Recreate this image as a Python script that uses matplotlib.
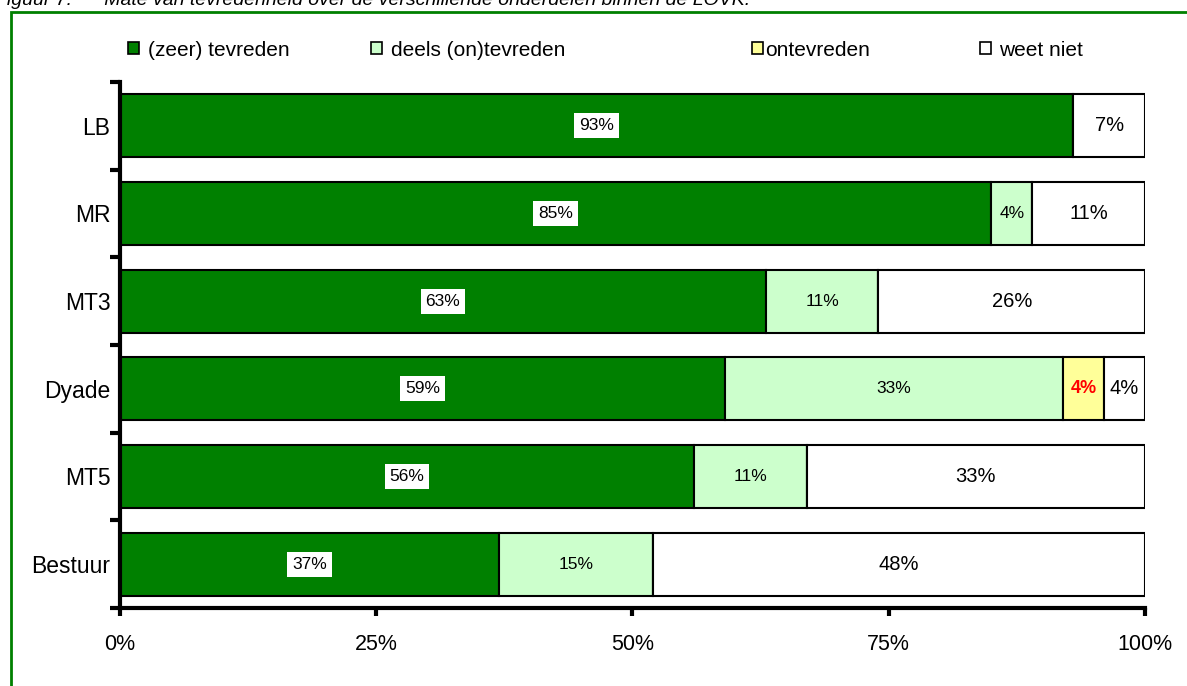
# -*- coding: utf-8 -*-
import numpy as np
import matplotlib.pyplot as plt
from matplotlib.patches import Patch, Rectangle

plt.rcParams['font.family'] = ['Liberation Sans', 'DejaVu Sans']

categories = ['LB', 'MR', 'MT3', 'Dyade', 'MT5', 'Bestuur']
tevreden = [93, 85, 63, 59, 56, 37]
deels = [0, 4, 11, 33, 11, 15]
ontevreden = [0, 0, 0, 4, 0, 0]
weet_niet = [7, 11, 26, 4, 33, 48]

series_names = ['(zeer) tevreden', 'deels (on)tevreden', 'ontevreden', 'weet niet']
colors = ['#008000', '#CCFFCC', '#FFFF99', '#FFFFFF']

title = 'Figuur 7:      Mate van tevredenheid over de verschillende onderdelen binnen de LOVK.'

# left edge (px) of each legend entry, and gap between box and text
legend_x = [128, 371, 752, 980]
legend_pad = [0.4, 0.4, 0.1, 0.35]


def draw_labels(ax, y, left, width, kind):
    cx = left + width / 2
    label = f'{width:.0f}%'
    if kind == 0:
        ax.text(cx, y, label, ha='center', va='center', fontsize=12.5,
                bbox=dict(facecolor='white', edgecolor='none', pad=3.5))
    elif kind == 1:
        ax.text(cx, y, label, ha='center', va='center', fontsize=12.5)
    elif kind == 2:
        ax.text(cx, y, label, ha='center', va='center', fontsize=13,
                color='red', fontweight='bold')
    else:
        ax.text(cx, y, label, ha='center', va='center', fontsize=14.5)


fig = plt.figure(figsize=(11.87, 6.86), dpi=100)
ax = fig.add_axes([0.1011, 0.1137, 0.8635, 0.7668])

# outer green frame, runs off the right and bottom edges
fig.patches.append(Rectangle((11 / 1187, -0.05), 1.2, 1 - 12 / 686 + 0.05,
                             transform=fig.transFigure, fill=False,
                             edgecolor='#008000', linewidth=2, clip_on=False))
fig.text(-0.004, 1 - 5 / 686, title, ha='left', va='baseline',
         fontsize=14, style='italic')

data = np.array([tevreden, deels, ontevreden, weet_niet], dtype=float)
ypos = np.arange(len(categories))[::-1]
left = np.zeros(len(categories))
for k in range(4):
    ax.barh(ypos, data[k], left=left, height=0.72, color=colors[k],
            edgecolor='black', linewidth=1.5)
    for i in range(len(categories)):
        if data[k, i] > 0:
            draw_labels(ax, ypos[i], left[i], data[k, i], k)
    left += data[k]

ax.set_xlim(0, 100)
ax.set_ylim(-0.5, len(categories) - 0.5)
ax.set_xticks([0, 25, 50, 75, 100])
ax.set_xticklabels(['0%', '25%', '50%', '75%', '100%'])
ax.set_yticks(ypos)
ax.set_yticklabels(categories)
ax.set_yticks(np.arange(-0.5, len(categories)), minor=True)

for side in ['top', 'right']:
    ax.spines[side].set_visible(False)
for side in ['left', 'bottom']:
    ax.spines[side].set_linewidth(3)

ax.tick_params(axis='y', which='major', length=0, pad=7, labelsize=16.5)
ax.tick_params(axis='y', which='minor', length=7, width=3, direction='out')
ax.tick_params(axis='x', which='major', length=6, width=3, direction='out',
               pad=13, labelsize=15.5)

# one small legend per entry so each sits at its own spot
for name, c, x, tp in zip(series_names, colors, legend_x, legend_pad):
    h = Patch(facecolor=c, edgecolor='black', linewidth=1.2)
    leg = fig.legend([h], [name], loc='center left',
                     bbox_to_anchor=(x / 1187, 1 - 50 / 686),
                     frameon=False, fontsize=15, borderpad=0,
                     borderaxespad=0, handlelength=0.55, handleheight=0.55,
                     handletextpad=tp)

fig.savefig('out.png', dpi=100)
